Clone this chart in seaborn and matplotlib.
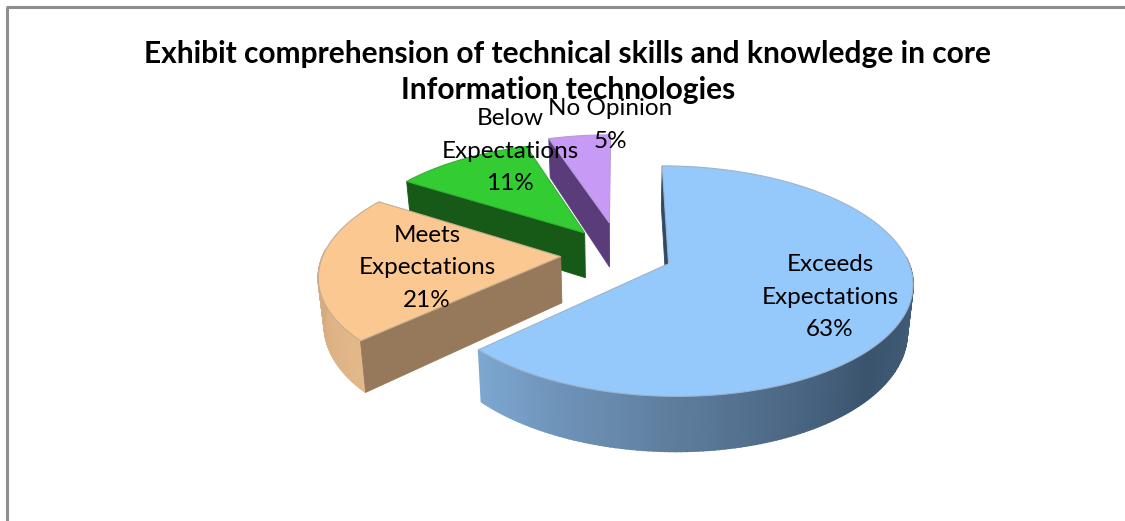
import numpy as np
import seaborn as sns
import matplotlib
matplotlib.use("Agg")
import matplotlib.pyplot as plt

# chart data
title = "Exhibit comprehension of technical skills and knowledge in core\nInformation technologies"
categories = ["Exceeds\nExpectations", "Meets\nExpectations", "Below\nExpectations", "No Opinion"]
percents = [63, 21, 11, 5]

# look of each slice
explode = [0.22, 0.25, 0.25, 0.30]
top_colors = ["#95C8FB", "#FBC891", "#33CC33", "#C79AF5"]
face_colors = ["#2F4A66", "#96795A", "#175A17", "#5A3C7A"]
wall_colors = [["#7EA8D2", "#5E7D9D", "#3B546E", "#46627E"], ["#D3A97C", "#E3B98B"], ["#175A17"], ["#5A3C7A"]]
edge_colors = ["#9DB4CC", "#C4AE94", "#33B033", "#B79AD8"]
label_xy = [(830, 297), (427, 268), (510, 151), (610, 125)]

# projection of the tilted pie into picture pixels
cx, cy = 620, 254
sx, sy, dist = 1590, 735, 6.7
thick = 0.42
bottom_shrink = 0.98


def project(x, y, drop=False):
    px = sx * x / (dist + y)
    py = sy * -y / (dist + y)
    if drop:
        px = px * bottom_shrink
        py = py + sy * thick / (dist + y)
    return cx + px, cy + py


sns.set_style("white")
plt.rcParams['font.family'] = ['Lato', 'DejaVu Sans']

fig = plt.figure(figsize=(11.25, 5.21), dpi=100)
ax = fig.add_axes([0, 0, 1, 1])
ax.set_xlim(0, 1125)
ax.set_ylim(521, 0)
ax.axis('off')

# chart frame, only left and top show in the crop
ax.plot([6.5, 6.5], [521, 7], color="#8E8E8E", lw=2.2, solid_capstyle='butt')
ax.plot([5.5, 1125], [7, 7], color="#8E8E8E", lw=2.2, solid_capstyle='butt')

# slice angles, clockwise from 12 o'clock
fractions = np.array(percents) / sum(percents)
ends = np.cumsum(fractions) * 360
starts = ends - fractions * 360

# back slices first so the front ones cover them
for i in reversed(range(len(percents))):
    a0, a1 = starts[i], ends[i]
    mid = np.radians((a0 + a1) / 2)
    tx, ty = explode[i] * np.sin(mid), explode[i] * np.cos(mid)
    th = np.radians(np.linspace(a0, a1, 200))
    rx, ry = tx + np.sin(th), ty + np.cos(th)

    # outer wall, only the part turned to the viewer
    vis = np.where((np.degrees(th) > 86) & (np.degrees(th) < 274))[0]
    if len(vis) > 1:
        shades = sns.blend_palette(wall_colors[i], n_colors=len(vis))
        # left end of the wall is the light one
        for k in range(len(vis) - 1):
            j = vis[k]
            xa, ya = project(rx[j:j + 2], ry[j:j + 2])
            xb, yb = project(rx[j:j + 2], ry[j:j + 2], drop=True)
            col = shades[len(vis) - 1 - k]
            ax.fill(np.r_[xa, xb[::-1]], np.r_[ya, yb[::-1]], color=col, lw=1.2)

    # flat cut face at the start angle
    fx = np.array([tx, rx[0]])
    fy = np.array([ty, ry[0]])
    xa, ya = project(fx, fy)
    xb, yb = project(fx, fy, drop=True)
    ax.fill(np.r_[xa, xb[::-1]], np.r_[ya, yb[::-1]], color=face_colors[i], lw=0.6)

    # top of the slice
    xt, yt = project(np.r_[tx, rx], np.r_[ty, ry])
    ax.fill(xt, yt, facecolor=top_colors[i], edgecolor=edge_colors[i], lw=0.8)

ax.text(568, 72, title, ha='center', va='center', fontsize=21.5, fontweight='bold',
        color='black', linespacing=1.33)

for name, pct, (lx, ly) in zip(categories, percents, label_xy):
    ax.text(lx, ly, f"{name}\n{pct}%", ha='center', va='center', fontsize=17.5,
            color='black', linespacing=1.68)

fig.savefig("out.png", dpi=100)
